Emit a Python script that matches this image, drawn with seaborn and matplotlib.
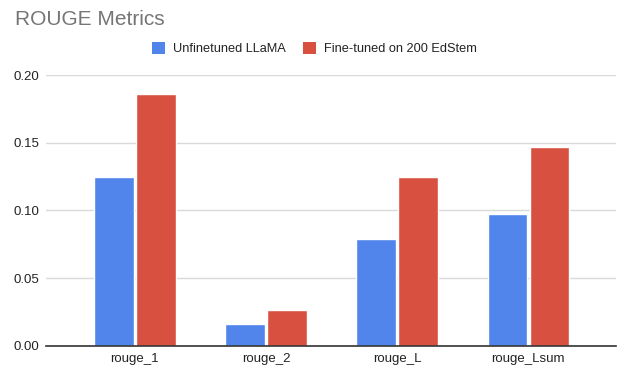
import matplotlib
matplotlib.use("Agg")
import matplotlib.pyplot as plt
import seaborn as sns
import pandas as pd
from matplotlib.patches import Patch

metrics = ["rouge_1", "rouge_2", "rouge_L", "rouge_Lsum"]
unfinetuned = [0.1245, 0.016, 0.079, 0.0973]
finetuned = [0.186, 0.0264, 0.125, 0.147]
series_names = ["Unfinetuned LLaMA", "Fine-tuned on 200 EdStem"]
y_ticks = [0.00, 0.05, 0.10, 0.15, 0.20]

colors = ["#5185EC", "#D85140"]

df = pd.DataFrame({
    "metric": metrics * 2,
    "score": unfinetuned + finetuned,
    "model": [series_names[0]] * len(metrics) + [series_names[1]] * len(metrics),
})

sns.set_theme(style="white")
plt.rcParams["font.family"] = ["Liberation Sans", "DejaVu Sans"]

fig = plt.figure(figsize=(6.18, 3.70), dpi=100)
ax = fig.add_axes([0.074, 0.0657, 0.923, 0.7313])

sns.barplot(data=df, x="metric", y="score", hue="model", order=metrics,
            hue_order=series_names, palette=colors, width=0.64, gap=0.06,
            saturation=1, legend=False, ax=ax, zorder=3)

ax.set_xlim(-0.68, 3.67)
ax.set_ylim(0, 0.20)
ax.set_yticks(y_ticks)
ax.set_yticklabels([f"{v:.2f}" for v in y_ticks])
ax.yaxis.grid(True, color="#D9D9D9", linewidth=1.0, zorder=0)
ax.set_axisbelow(True)
for side in ["top", "right", "left"]:
    ax.spines[side].set_visible(False)
ax.spines["bottom"].set_color("#333333")
ax.spines["bottom"].set_linewidth(1.2)
ax.spines["bottom"].set_zorder(5)
ax.tick_params(axis="both", length=0, labelsize=9.5, colors="#222222")
ax.tick_params(axis="y", pad=4.8)
ax.tick_params(axis="x", pad=5)
ax.set_xlabel("")
ax.set_ylabel("")

fig.text(0.0243, 0.9324, "ROUGE Metrics", fontsize=15, color="#757575",
         ha="left", va="baseline")

handles = [Patch(facecolor=c, edgecolor="none") for c in colors]
fig.legend(handles, series_names, loc="center", bbox_to_anchor=(0.509, 0.868),
           ncol=2, frameon=False, fontsize=9.2, handlelength=1.0, handleheight=1.0,
           handletextpad=0.65, columnspacing=1.38, labelcolor="#222222",
           borderpad=0, borderaxespad=0)

fig.savefig("out.png", dpi=100)
